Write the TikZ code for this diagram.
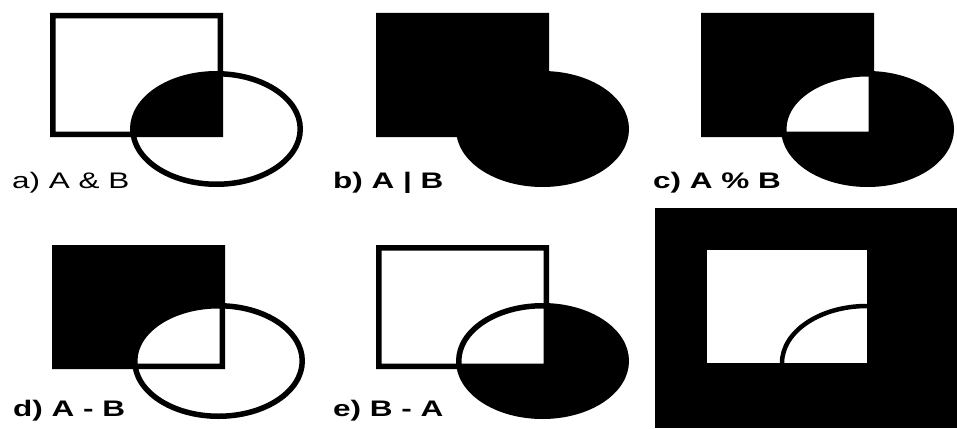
\documentclass[tikz,border=0pt]{standalone}
\usepackage{fontspec}
\newfontfamily\lblfont[FakeStretch=1.4]{Liberation Sans}
% the two sets: rectangle A and ellipse B
\newcommand\setA{(52.75,15.75) rectangle (220.25,134.25)}
\newcommand\setB{(216.5,129) ellipse [x radius=83.75, y radius=55.25]}
\begin{document}
\begin{tikzpicture}[
        x=1pt, y=-1pt,
        outline/.style={draw=black, line width=5.5pt},
        hole/.style={fill=white},
        lbl/.style={anchor=base west, inner sep=0pt, font=\lblfont\fontsize{22.5}{26}\selectfont},
        blbl/.style={lbl, font=\lblfont\bfseries\fontsize{22.5}{26}\selectfont},
    ]
    \useasboundingbox[fill=white] (0,0) rectangle (957,428);
    % a) A & B
    \begin{scope}
        \begin{scope} \clip \setA; \fill \setB; \end{scope}
        \draw[outline] \setA \setB;
    \end{scope}
    % b) A | B
    \begin{scope}[shift={(326,0)}]
        \fill \setA; \fill \setB;
        \draw[outline] \setA \setB;
    \end{scope}
    % c) A % B
    \begin{scope}[shift={(651,0)}]
        \fill \setA; \fill \setB;
        \begin{scope} \clip \setA; \fill[hole] \setB; \end{scope}
        \draw[outline] \setA \setB;
    \end{scope}
    % d) A - B
    \begin{scope}[shift={(2,232)}]
        \fill \setA;
        \begin{scope} \clip \setA; \fill[hole] \setB; \end{scope}
        \draw[outline] \setA \setB;
    \end{scope}
    % e) B - A
    \begin{scope}[shift={(326,232)}]
        \fill \setB;
        \begin{scope} \clip \setA; \fill[hole] \setB; \end{scope}
        \draw[outline] \setA \setB;
    \end{scope}
    % complement panel
    \fill (655,208) rectangle (957,428);
    \fill[hole] (707,250) rectangle (867,363);
    \begin{scope}
        \clip (707,250) rectangle (867,363);
        \draw[line width=4.5pt] (867,363) ellipse [x radius=85, y radius=57];
    \end{scope}
    \node[lbl] (la) at (12,188) {a) A \& B};
    \node[blbl] (lb) at (333,188) {b) A | B};
    \node[blbl] (lc) at (653,188) {c) A \% B};
    \node[blbl] (ld) at (13,416) {d) A - B};
    \node[blbl] (le) at (333,416) {e) B - A};
\end{tikzpicture}
\end{document}
